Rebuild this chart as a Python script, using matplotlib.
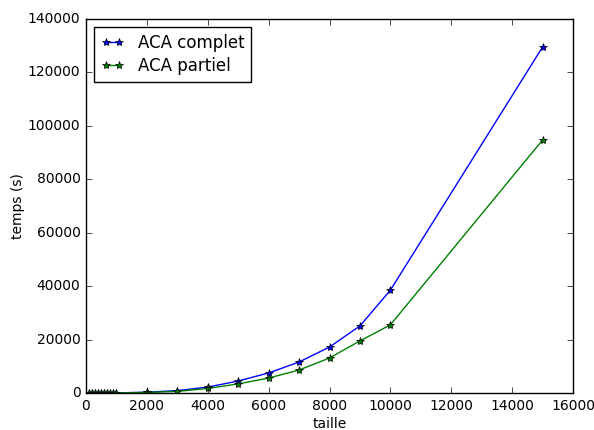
import matplotlib
matplotlib.use('Agg')
import matplotlib.pyplot as plt

# Sizes of the problem and measured times
taille = [100, 200, 300, 400, 500, 600, 700, 800, 900, 1000,
          2000, 3000, 4000, 5000, 6000, 7000, 8000, 9000, 10000, 15000]
temps_complet = [1, 2, 4, 6, 9, 13, 18, 24, 30, 38,
                 300, 900, 2200, 4500, 7500, 11600, 17200, 25100, 38500, 129500]
temps_partiel = [1, 2, 3, 5, 7, 10, 14, 18, 23, 29,
                 200, 600, 1700, 3400, 5600, 8600, 13100, 19500, 25500, 94700]

plt.style.use('classic')
fig = plt.figure(figsize=(5.94, 4.30), dpi=100)
ax = fig.add_axes([86 / 594, 37 / 430, 487 / 594, 374 / 430])

ax.plot(taille, temps_complet, 'b*-', label='ACA complet', markersize=6)
ax.plot(taille, temps_partiel, 'g*-', label='ACA partiel', markersize=6)

ax.set_xlim(0, 16000)
ax.set_ylim(0, 140000)
ax.set_xlabel('taille', fontsize=10, labelpad=3)
ax.set_ylabel('temps (s)', fontsize=10, labelpad=2)
ax.tick_params(labelsize=10)
ax.legend(loc='upper left', fontsize=12, handlelength=1.4,
          labelspacing=0.3, borderpad=0.4)

fig.savefig('out.png', dpi=100)
